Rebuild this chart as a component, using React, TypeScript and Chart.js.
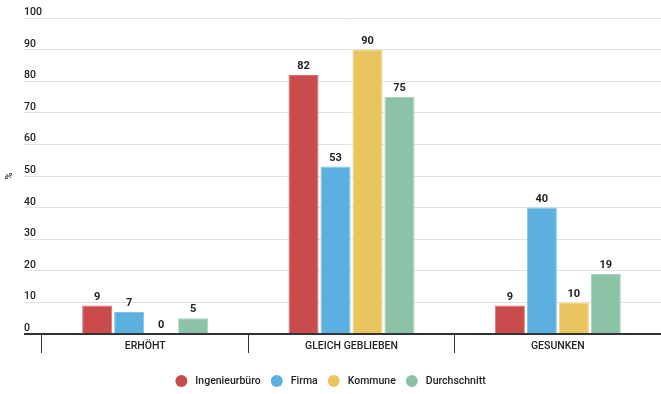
import React, { useEffect, useRef } from "react";
import { Chart, registerables } from "chart.js";

Chart.register(...registerables);

const categories = ["ERHÖHT", "GLEICH GEBLIEBEN", "GESUNKEN"];
const seriesNames = ["Ingenieurbüro", "Firma", "Kommune", "Durchschnitt"];
const ingenieurbuero = [9, 82, 9];
const firma = [7, 53, 40];
const kommune = [0, 90, 10];
const durchschnitt = [5, 75, 19];
const seriesColors = ["#c94b4b", "#5cb0e0", "#e9c560", "#8cc3a6"];
const seriesBorders = ["#d9706f", "#80c2e8", "#f0d587", "#a9d3bc"];
const yTicks = [0, 10, 20, 30, 40, 50, 60, 70, 80, 90, 100];
const yUnit = "%";

const FONT = "Roboto, 'Noto Sans', sans-serif";
const TEXT = "#222";

const labelPlugin = {
  id: "valueAndAxisLabels",
  afterDatasetsDraw(chart: any) {
    const ctx = chart.ctx;
    ctx.save();
    ctx.font = `bold 11px ${FONT}`;
    ctx.fillStyle = TEXT;
    ctx.textAlign = "center";
    ctx.textBaseline = "bottom";
    chart.data.datasets.forEach((ds: any, i: number) => {
      const meta = chart.getDatasetMeta(i);
      meta.data.forEach((bar: any, j: number) => {
        ctx.fillText(String(ds.data[j]), bar.x, bar.y - 3);
      });
    });
    ctx.restore();
  },
  afterDraw(chart: any) {
    const ctx = chart.ctx;
    const y = chart.scales.y;
    const x = chart.scales.x;
    ctx.save();
    ctx.font = `500 10.5px ${FONT}`;
    ctx.fillStyle = TEXT;
    ctx.textAlign = "left";
    ctx.textBaseline = "alphabetic";
    yTicks.forEach((v) => {
      ctx.fillText(String(v), 24, y.getPixelForValue(v) - 3);
    });

    // category names sit between the separator ticks
    ctx.textAlign = "center";
    ctx.textBaseline = "middle";
    categories.forEach((c, i) => {
      ctx.fillText(c, x.getPixelForValue(i), y.bottom + 12);
    });

    // legend row: dot, gap, name, gap ...
    const dot = 6;
    const dotGap = 8;
    const itemGap = 10;
    ctx.font = `500 10.5px ${FONT}`;
    const widths = chart.data.datasets.map((ds: any) => ctx.measureText(ds.label).width);
    const total =
      widths.reduce((a: number, w: number) => a + w + dot * 2 + dotGap, 0) +
      itemGap * (widths.length - 1);
    let lx = (chart.width - total) / 2;
    const ly = 381;
    ctx.textAlign = "left";
    chart.data.datasets.forEach((ds: any, i: number) => {
      ctx.beginPath();
      ctx.arc(lx + dot, ly, dot, 0, Math.PI * 2);
      ctx.fillStyle = ds.backgroundColor;
      ctx.fill();
      ctx.fillStyle = TEXT;
      ctx.fillText(ds.label, lx + dot * 2 + dotGap, ly + 0.5);
      lx += dot * 2 + dotGap + widths[i] + itemGap;
    });

    // unit label, rotated along the value axis
    ctx.translate(10, (y.top + y.bottom) / 2);
    ctx.rotate(-Math.PI / 2);
    ctx.font = `500 9.5px ${FONT}`;
    ctx.textAlign = "center";
    ctx.textBaseline = "middle";
    ctx.fillStyle = TEXT;
    ctx.fillText(yUnit, 0, 0);
    ctx.restore();
  },
};

export default function App() {
  const canvasRef = useRef<HTMLCanvasElement>(null);

  useEffect(() => {
    const values = [ingenieurbuero, firma, kommune, durchschnitt];
    const chart = new Chart(canvasRef.current!, {
      type: "bar",
      data: {
        labels: categories,
        datasets: seriesNames.map((name, i) => ({
          label: name,
          data: values[i],
          backgroundColor: seriesColors[i],
          borderColor: seriesBorders[i],
          borderWidth: 1,
          categoryPercentage: 0.62,
          barPercentage: 0.94,
        })),
      },
      options: {
        animation: false,
        responsive: false,
        maintainAspectRatio: false,
        layout: { padding: { left: 24, top: 18, right: 0, bottom: 41 } },
        plugins: {
          tooltip: { enabled: false },
          legend: { display: false },
        },
        scales: {
          x: {
            offset: true,
            afterFit: (scale: any) => {
              scale.height = 19;
            },
            grid: {
              display: true,
              offset: true,
              drawOnChartArea: false,
              drawTicks: true,
              tickLength: 19,
              color: "#333",
              lineWidth: 1,
            },
            border: { display: true, color: "#333", width: 2 },
            ticks: { display: false },
          },
          y: {
            min: 0,
            max: 100,
            ticks: { display: false, stepSize: 10 },
            border: { display: false },
            grid: {
              tickLength: 18,
              color: (c: any) => (c.tick && c.tick.value === 0 ? "#333" : "#e2e2e2"),
              lineWidth: (c: any) => (c.tick && c.tick.value === 0 ? 2 : 1),
            },
          },
        },
      },
      plugins: [labelPlugin],
    });
    return () => chart.destroy();
  }, []);

  return (
    <div style={{ position: "absolute", left: 0, top: 0, width: 661, height: 394 }}>
      <canvas ref={canvasRef} width={661} height={394} />
    </div>
  );
}
